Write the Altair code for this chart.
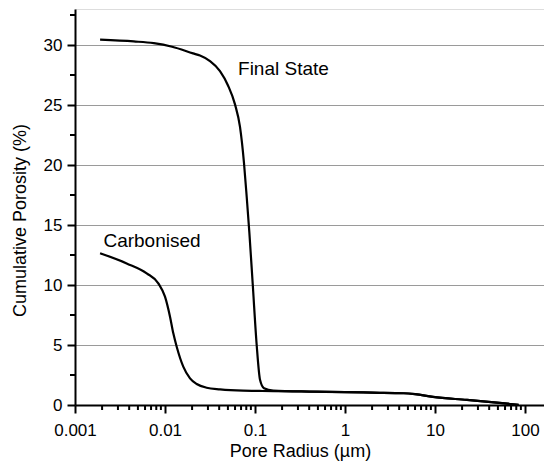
import altair as alt
import pandas as pd

# Final State curve (pore radius in µm, cumulative porosity in %)
final_r = [0.0019, 0.0045, 0.0075, 0.012, 0.0205, 0.02448, 0.03162, 0.04084, 0.05012,
           0.05995, 0.06813, 0.07543, 0.0809, 0.0865, 0.0943, 0.1044, 0.1137, 0.1259,
           0.1596, 0.4, 1.0, 2.0, 4.5, 6.0, 9.5, 22.7, 52.0, 85.0]
final_v = [30.45, 30.3, 30.15, 29.85, 29.3, 29.12, 28.66, 27.83, 26.63,
           25.05, 23.17, 20.18, 17.33, 14.4, 10.1, 5.0, 2.1, 1.4,
           1.2, 1.12, 1.08, 1.03, 0.98, 0.9, 0.67, 0.42, 0.17, 0.02]

# Carbonised curve
carb_r = [0.0019, 0.00375, 0.00626, 0.00843, 0.01, 0.01137, 0.01237, 0.01349,
          0.01596, 0.01897, 0.0225, 0.029, 0.0409, 0.0736, 0.1137, 0.1596,
          0.4, 1.0, 2.0, 4.5, 6.0, 9.5, 22.7, 52.0, 85.0]
carb_v = [12.65, 11.8, 10.97, 10.14, 9.03, 7.36, 5.97, 4.86,
          3.2, 2.22, 1.75, 1.44, 1.3, 1.19, 1.17, 1.16,
          1.12, 1.08, 1.03, 0.98, 0.9, 0.67, 0.42, 0.17, 0.02]

x_major = [0.001, 0.01, 0.1, 1, 10, 100]
x_minor = [m * d for d in [0.001, 0.01, 0.1, 1, 10] for m in range(2, 10)]
y_major = [0, 5, 10, 15, 20, 25, 30]
y_minor = [2.5, 7.5, 12.5, 17.5, 22.5, 27.5, 32.5]

labels = ["Final State", "Carbonised"]
label_r = [0.0648, 0.00207]
label_v = [27.5, 13.19]

rows = []
for i, (r, v) in enumerate(zip(final_r, final_v)):
    rows.append({"series": "Final State", "r": r, "v": v, "o": i})
for i, (r, v) in enumerate(zip(carb_r, carb_v)):
    rows.append({"series": "Carbonised", "r": r, "v": v, "o": i})
df = pd.DataFrame(rows)

FONT = "Liberation Sans"
xscale = alt.Scale(type="log", domain=[0.001, 162.6], nice=False)
yscale = alt.Scale(domain=[0, 33], nice=False, zero=False)

xaxis = alt.Axis(values=x_major, format="~g", title="Pore Radius (µm)",
                 grid=False, domainColor="black", domainWidth=2,
                 tickColor="black", tickWidth=2, tickSize=8,
                 labelFontSize=17, labelPadding=9, labelColor="black",
                 labelFont=FONT, labelFlush=False,
                 titleFont=FONT, titleFontSize=18, titleFontWeight="normal",
                 titleColor="black", titleX=225, titleY=51,
                 titleAlign="center", titleBaseline="alphabetic")
yaxis = alt.Axis(values=y_major, title="Cumulative Porosity (%)",
                 grid=True, gridColor="#9a9a9a", gridWidth=1,
                 domainColor="black", domainWidth=2,
                 tickColor="black", tickWidth=2, tickSize=8,
                 labelFontSize=17, labelPadding=5, labelColor="black",
                 labelFont=FONT,
                 titleFont=FONT, titleFontSize=18, titleFontWeight="normal",
                 titleColor="black", titleX=-55, titleY=211,
                 titleAlign="center", titleBaseline="middle", titleAngle=-90)

lines = alt.Chart(df).mark_line(color="black", strokeWidth=2.2,
                                interpolate="monotone").encode(
    x=alt.X("r:Q", scale=xscale, axis=xaxis),
    y=alt.Y("v:Q", scale=yscale, axis=yaxis),
    detail="series:N",
    order="o:Q",
)

xm = alt.Chart(pd.DataFrame({"r": x_minor})).mark_rule(
    color="black", strokeWidth=2).encode(
    x=alt.X("r:Q", scale=xscale),
    y=alt.value(396), y2=alt.value(401),
)

ym = alt.Chart(pd.DataFrame({"v": y_minor})).mark_rule(
    color="black", strokeWidth=2).encode(
    y=alt.Y("v:Q", scale=yscale),
    x=alt.value(-5), x2=alt.value(0),
)

txt = alt.Chart(pd.DataFrame({"t": labels, "r": label_r, "v": label_v})).mark_text(
    align="left", baseline="alphabetic", font=FONT, fontSize=19, color="black"
).encode(
    x=alt.X("r:Q", scale=xscale),
    y=alt.Y("v:Q", scale=yscale),
    text="t:N",
)

chart = alt.layer(lines, xm, ym, txt).properties(
    width=469, height=396,
    autosize=alt.AutoSizeParams(type="none"),
    padding={"left": 67, "top": 1, "right": 0, "bottom": 56},
).configure_view(stroke="#9a9a9a", strokeWidth=1).configure(background="white")

chart.save("out.html", embed_options={"renderer": "svg", "actions": False})
